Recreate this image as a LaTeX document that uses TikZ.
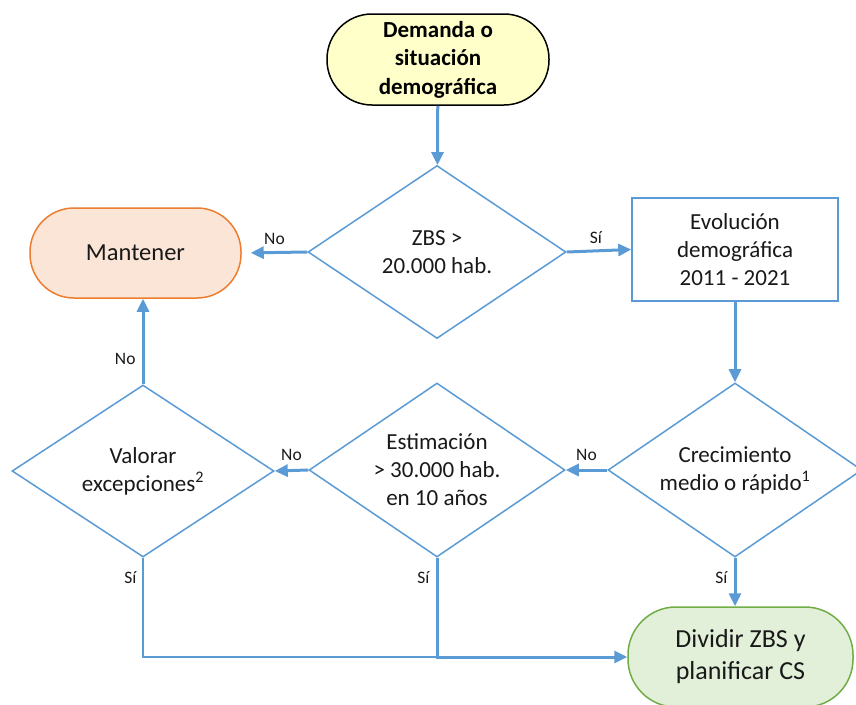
\documentclass[tikz,border=0pt]{standalone}
\usepackage{fontspec}
\setmainfont{Carlito}
\usetikzlibrary{arrows.meta,shapes.geometric}
\definecolor{lblue}{HTML}{5B9BD5}
\definecolor{oborder}{HTML}{ED7D31}
\definecolor{ofill}{HTML}{FBE5D6}
\definecolor{gborder}{HTML}{70AD47}
\definecolor{gfill}{HTML}{E2F0D9}
\definecolor{yfill}{HTML}{FFFFC9}
\tikzset{
  txt/.style={align=center, font=\fontsize{23}{28}\selectfont, text=black!90},
  decision/.style={txt, diamond, draw=lblue, line width=1.5pt, fill=white, aspect=1.5, inner sep=-25pt},
  procbox/.style={txt, rectangle, draw=lblue, line width=1.5pt, fill=white, inner sep=0pt},
  conn/.style={draw=lblue, line width=3pt, -{Triangle[length=13pt,width=12pt]}},
  thinconn/.style={draw=lblue, line width=1.3pt},
  lbl/.style={font=\fontsize{17.5}{20}\selectfont, text=black!90, inner sep=2pt}
}
\begin{document}
\begin{tikzpicture}[x=1pt,y=-1pt]
\useasboundingbox (0,0) rectangle (856,704);
% nodes
\node[txt, font=\bfseries\fontsize{23}{28.5}\selectfont, text=black, draw=black, line width=1.5pt, fill=yfill,
      rounded corners=45pt, minimum width=222pt, minimum height=91pt, inner sep=0pt]
      (start) at (438,59.5) {Demanda o\\situación\\demográfica};
\node[decision, minimum width=258pt, minimum height=173pt] (d1) at (437,252) {ZBS >\\20.000 hab.};
\node[txt, draw=oborder, line width=1.5pt, fill=ofill, rounded corners=44pt,
      minimum width=211pt, minimum height=90pt, inner sep=0pt, font=\fontsize{24.5}{28}\selectfont]
      (mant) at (135.5,253) {Mantener};
\node[procbox, minimum width=206pt, minimum height=103pt] (evo) at (735,249.5) {Evolución\\demográfica\\2011 - 2021};
\node[decision, minimum width=254pt, minimum height=174pt] (crec) at (735,470) {Crecimiento\\medio o rápido\textsuperscript{1}};
\node[decision, minimum width=256pt, minimum height=174pt] (est) at (437,470) {Estimación\\> 30.000 hab.\\en 10 años};
\node[decision, minimum width=262pt, minimum height=172pt] (val) at (143,471) {Valorar\\excepciones\textsuperscript{2}};
\node[txt, draw=gborder, line width=1.5pt, fill=gfill, rounded corners=48pt,
      minimum width=225pt, minimum height=100pt, inner sep=0pt, font=\fontsize{26}{32}\selectfont]
      (div) at (740.5,657) {Dividir ZBS y\\planificar CS};
\coordinate (j) at (est.south |- div.west);
% connectors
\draw[thinconn] (val.south) |- (j) node[lbl, pos=0.1, left=4pt] {Sí};
\draw[conn] (start) -- (d1);
\draw[conn, shorten >=9pt] (d1.west) -- (mant.east) node[lbl, midway, above=4pt] {No};
\draw[conn] (d1.east) -- (evo.west) node[lbl, pos=0.45, above=4pt] {Sí};
\draw[conn] (evo) -- (crec);
\draw[conn] (crec.west) -- (est.east) node[lbl, midway, above=6pt] {No};
\draw[conn] (est.west) -- (val.east) node[lbl, midway, above=6pt] {No};
\draw[conn] (val.north) -- (val.north |- mant.south) node[lbl, pos=0.3, left=4pt] {No};
\draw[conn] (crec.south) -- (crec.south |- div.north) node[lbl, pos=0.4, left=4pt] {Sí};
\draw[conn] (est.south) |- (div.west) node[lbl, pos=0.1, left=4pt] {Sí};
\end{tikzpicture}
\end{document}
